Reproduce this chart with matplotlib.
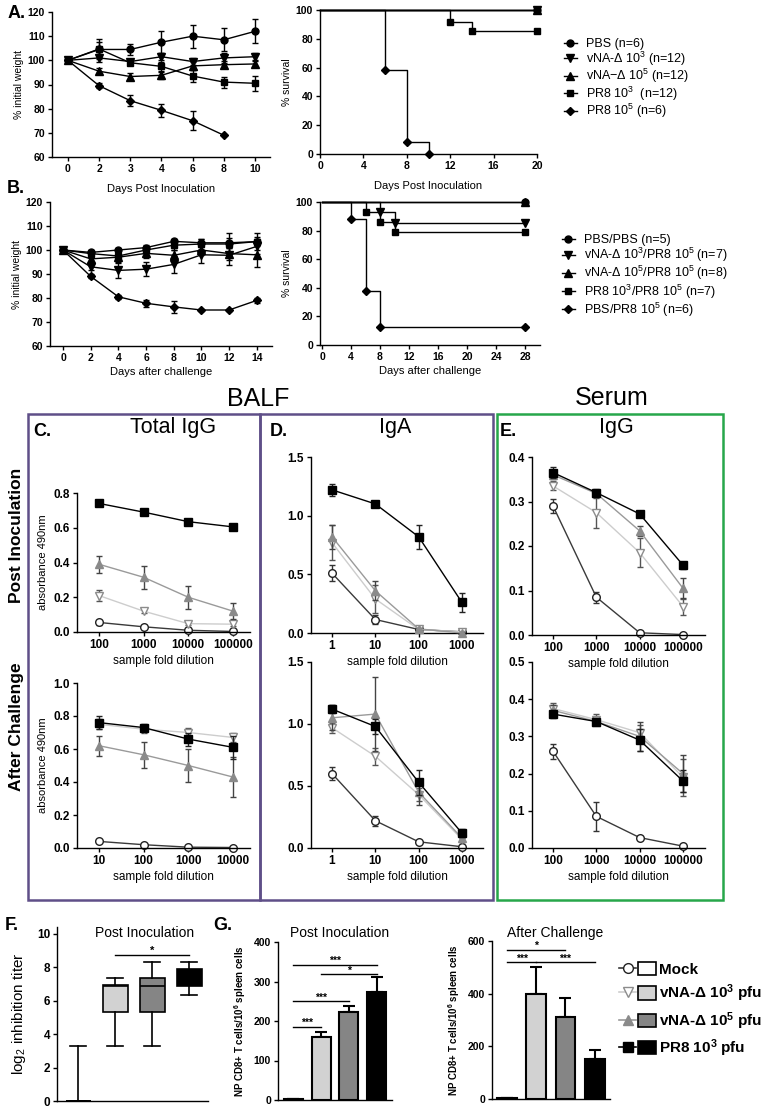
import matplotlib.pyplot as plt
import numpy as np
from matplotlib.lines import Line2D
from matplotlib.patches import Rectangle, Patch
from matplotlib.legend_handler import HandlerTuple

plt.rcParams['font.family'] = ['Liberation Sans', 'DejaVu Sans']
plt.rcParams['mathtext.fontset'] = 'custom'
plt.rcParams['mathtext.rm'] = 'Liberation Sans'
plt.rcParams['mathtext.it'] = 'Liberation Sans:italic'
plt.rcParams['mathtext.bf'] = 'Liberation Sans:bold'

nan = np.nan

# ---------------- A: weight / survival after inoculation ----------------
days_a = ['0', '2', '3', '4', '6', '8', '10']
labels_a = ['PBS (n=6)', 'vNA-Δ 10$^3$ (n=12)', 'vNA−Δ 10$^5$ (n=12)',
            'PR8 10$^3$  (n=12)', 'PR8 10$^5$ (n=6)']
wt_a = [[100, 104.5, 104.5, 107.5, 110, 108.5, 112],
        [100, 101, 99.5, 101.5, 99.5, 101, 101.5],
        [100, 95.5, 93.3, 93.8, 97.7, 98.2, 98.5],
        [100, 104.7, 99, 97.5, 93.5, 91, 90.5],
        [100, 89.5, 83.3, 79.3, 75, 69, nan]]
wt_a_err = [[0, 3, 2.2, 4.5, 4.8, 4.7, 5],
            [0, 1.5, 1, 1.5, 1.5, 2, 1.5],
            [0, 1.2, 1.5, 1.5, 1.5, 1.5, 1.2],
            [0, 4, 1, 2, 2.3, 2.3, 3],
            [0, 1, 2.3, 2.8, 4, 0, 0]]
surv_a_t = [[0, 20], [0, 20], [0, 20], [0, 12, 14, 20], [0, 6, 8, 10]]
surv_a = [[100, 100], [100, 100], [100, 100], [100, 92, 85.5, 85.5], [100, 58.3, 8.3, 0]]

# ---------------- B: weight / survival after challenge ----------------
days_b = [0, 2, 4, 6, 8, 10, 12, 14]
labels_b = ['PBS/PBS (n=5)', 'vNA-Δ 10$^3$/PR8 10$^5$ (n=7)', 'vNA-Δ 10$^5$/PR8 10$^5$ (n=8)',
            'PR8 10$^3$/PR8 10$^5$ (n=7)', 'PBS/PR8 10$^5$ (n=6)']
wt_b = [[100, 99, 100, 101, 103.6, 103, 103, 103.5],
        [100, 93, 91.5, 92, 94, 98, 97.8, 101.5],
        [100, 96.3, 97, 98.6, 97.8, 100, 98.5, 98],
        [100, 98.5, 97.5, 100, 102, 102.5, 102.5, 103.5],
        [100, 89, 80.5, 77.8, 76.3, 75, 75, 79]]
wt_b_err = [[0, 1, 1, 1, 1, 1.5, 2, 2],
            [0, 1.5, 3, 3, 3.5, 3.5, 4, 3],
            [0, 1.5, 2, 2, 2, 2, 2.5, 5],
            [0, 1, 1.5, 1, 2, 2, 4.5, 3.5],
            [0, 0.8, 0.8, 1.5, 2.5, 0.5, 0.5, 1]]
surv_b_t = [[0, 28], [0, 8, 10, 28], [0, 28], [0, 6, 8, 10, 28], [0, 4, 6, 8, 28]]
surv_b = [[100, 100], [100, 93, 85, 85], [100, 100], [100, 93, 86, 79, 79],
          [100, 88, 37.5, 12.5, 12.5]]
wt_markers = ['o', 'v', '^', 's', 'D']
wt_msize = [5, 5.5, 5.5, 5, 4.5]

# ---------------- C/D/E: ELISA (mock, vNA 10^3, vNA 10^5, PR8 10^3) ----------------
dil_c_top = [100, 1000, 10000, 100000]
c_top = [[0.055, 0.03, 0.01, 0.003], [0.21, 0.12, 0.048, 0.045],
         [0.39, 0.315, 0.20, 0.12], [0.74, 0.69, 0.635, 0.605]]
c_top_err = [[0.015, 0.008, 0.005, 0.003], [0.03, 0.012, 0.01, 0.01],
             [0.05, 0.065, 0.065, 0.045], [0.01, 0.01, 0.01, 0.01]]
dil_c_bot = [10, 100, 1000, 10000]
c_bot = [[0.04, 0.02, 0.005, 0.003], [0.75, 0.72, 0.70, 0.67],
         [0.62, 0.565, 0.50, 0.43], [0.76, 0.73, 0.66, 0.61]]
c_bot_err = [[0.005, 0.005, 0.003, 0.002], [0.03, 0.02, 0.03, 0.03],
             [0.06, 0.08, 0.1, 0.12], [0.04, 0.02, 0.04, 0.07]]
dil_d = [1, 10, 100, 1000]
d_top = [[0.51, 0.115, 0.03, 0.01], [0.77, 0.29, 0.03, 0.01],
         [0.82, 0.36, 0.035, 0.0], [1.22, 1.10, 0.82, 0.26]]
d_top_err = [[0.07, 0.04, 0.01, 0.005], [0.15, 0.12, 0.01, 0.005],
             [0.1, 0.08, 0.01, 0.005], [0.05, 0.02, 0.1, 0.08]]
d_bot = [[0.60, 0.22, 0.05, 0.01], [0.97, 0.74, 0.43, 0.07],
         [1.05, 1.08, 0.45, 0.08], [1.12, 0.98, 0.53, 0.12]]
d_bot_err = [[0.05, 0.04, 0.01, 0.005], [0.04, 0.07, 0.05, 0.02],
             [0.1, 0.3, 0.1, 0.03], [0.03, 0.06, 0.1, 0.03]]
dil_e = [100, 1000, 10000, 100000]
e_top = [[0.29, 0.085, 0.005, 0.001], [0.335, 0.275, 0.185, 0.064],
         [0.36, 0.318, 0.234, 0.105], [0.365, 0.32, 0.272, 0.157]]
e_top_err = [[0.015, 0.012, 0.003, 0.002], [0.01, 0.035, 0.033, 0.018],
             [0.01, 0.01, 0.012, 0.022], [0.012, 0.005, 0.005, 0.008]]
e_bot = [[0.26, 0.085, 0.028, 0.005], [0.375, 0.345, 0.31, 0.19],
         [0.37, 0.34, 0.30, 0.20], [0.36, 0.34, 0.29, 0.18]]
e_bot_err = [[0.02, 0.04, 0.005, 0.003], [0.015, 0.015, 0.02, 0.05],
             [0.015, 0.01, 0.04, 0.05], [0.01, 0.01, 0.03, 0.03]]

# ---------------- F: HI titer boxes ----------------
hi_lo = [0, 3.3, 3.3, 6.35]
hi_q1 = [0, 5.3, 5.3, 6.9]
hi_med = [0, 6.9, 6.9, 7.4]
hi_q3 = [0, 6.95, 7.35, 7.9]
hi_hi = [3.3, 7.35, 8.3, 8.3]
sig_f = [(1, 3, 8.7, '*')]

# ---------------- G: NP CD8+ T cells ----------------
g_post = [2, 160, 223, 273]
g_post_err = [0, 12, 15, 38]
g_chal = [3, 399, 312, 152]
g_chal_err = [0, 101, 70, 34]
sig_post = [(0, 3, 342, '***'), (1, 3, 319, '*'), (0, 2, 250, '***'), (0, 1, 185, '***')]
sig_chal = [(0, 2, 566, '*'), (0, 1, 520, '***'), (1, 3, 520, '***')]

legend_g = ['Mock', 'vNA-Δ 10$^\\mathbf{3}$ pfu', 'vNA-Δ 10$^\\mathbf{5}$ pfu', 'PR8 10$^\\mathbf{3}$ pfu']
bar_colors = ['white', '#d2d2d2', '#858585', 'black']
# line style per group in ELISA plots
el_line = ['#3a3a3a', '#cdcdcd', '#9a9a9a', 'black']
el_mark = ['o', 'v', '^', 's']
el_mfc = ['white', 'white', '#8a8a8a', 'black']
el_mec = ['#222222', '#8c8c8c', '#8a8a8a', 'black']
el_ecol = ['#333333', '#555555', '#444444', '#222222']

W, H = 764, 1112
fig = plt.figure(figsize=(W / 100, H / 100), dpi=100)


def add_ax(left, top, right, bottom, fs=7.5):
    ax = fig.add_axes([left / W, 1 - bottom / H, (right - left) / W, (bottom - top) / H])
    ax.patch.set_visible(False)
    ax.spines[['top', 'right']].set_visible(False)
    ax.spines[['left', 'bottom']].set_linewidth(1)
    ax.tick_params(direction='out', length=3, width=1, labelsize=fs, pad=2)
    return ax


def ftext(x, y, s, **kw):
    fig.text(x / W, 1 - y / H, s, **kw)


def ticks(ax, xt, xl, yt, yl, fs):
    ax.set_xticks(xt, xl, fontsize=fs, fontweight='bold')
    ax.set_yticks(yt, yl, fontsize=fs, fontweight='bold')
    ax.minorticks_off()


# ---- A weight ----
ax = add_ax(52, 12, 270, 157)
xa = np.arange(len(days_a))
for i in range(5):
    ax.errorbar(xa, wt_a[i], yerr=wt_a_err[i], color='k', marker=wt_markers[i], ms=wt_msize[i],
                lw=1, capsize=2.5, elinewidth=1, clip_on=False)
ax.set_xlim(-0.51, 6.48)
ax.set_ylim(60, 120)
ticks(ax, xa, days_a, range(60, 121, 10), [str(v) for v in range(60, 121, 10)], 7.5)
ax.set_ylabel('% initial weight', fontsize=7.5, labelpad=3)
ax.set_xlabel('Days Post Inoculation', fontsize=8, labelpad=7)

# ---- A survival ----
ax = add_ax(320, 10, 537, 154)
for i in range(5):
    ax.plot(surv_a_t[i], surv_a[i], drawstyle='steps-post', color='k', lw=1, clip_on=False)
    ax.plot(surv_a_t[i][1:], surv_a[i][1:], ls='none', marker=wt_markers[i], ms=wt_msize[i],
            color='k', clip_on=False)
ax.set_xlim(0, 20)
ax.set_ylim(0, 100)
ticks(ax, range(0, 21, 4), [str(v) for v in range(0, 21, 4)], range(0, 101, 20),
      [str(v) for v in range(0, 101, 20)], 7.5)
ax.set_ylabel('% survival', fontsize=7.5, labelpad=3)
ax.set_xlabel('Days Post Inoculation', fontsize=8, labelpad=7)

hA = [Line2D([], [], color='k', lw=1, marker=wt_markers[i], ms=wt_msize[i]) for i in range(5)]
fig.legend(hA, labels_a, loc='upper left', bbox_to_anchor=(564 / W, 1 - 38 / H),
           frameon=False, fontsize=9, handlelength=1.0, handletextpad=0.8,
           labelspacing=-0.05, borderpad=0, borderaxespad=0)

# ---- B weight ----
ax = add_ax(50, 202, 272, 346)
for i in range(5):
    ax.errorbar(days_b, wt_b[i], yerr=wt_b_err[i], color='k', marker=wt_markers[i], ms=wt_msize[i],
                lw=1, capsize=2.5, elinewidth=1, clip_on=False)
ax.set_xlim(-0.94, 15.1)
ax.set_ylim(60, 120)
ticks(ax, range(0, 15, 2), [str(v) for v in range(0, 15, 2)], range(60, 121, 10),
      [str(v) for v in range(60, 121, 10)], 7.5)
ax.set_ylabel('% initial weight', fontsize=7.5, labelpad=3)
ax.set_xlabel('Days after challenge', fontsize=8, labelpad=3)

# ---- B survival ----
ax = add_ax(320, 202, 540, 345)
for i in range(5):
    ax.plot(surv_b_t[i], surv_b[i], drawstyle='steps-post', color='k', lw=1, clip_on=False)
    ax.plot(surv_b_t[i][1:], surv_b[i][1:], ls='none', marker=wt_markers[i], ms=wt_msize[i],
            color='k', clip_on=False)
ax.set_xlim(-0.28, 30.07)
ax.set_ylim(0, 100)
ticks(ax, range(0, 29, 4), [str(v) for v in range(0, 29, 4)], range(0, 101, 20),
      [str(v) for v in range(0, 101, 20)], 7.5)
ax.set_ylabel('% survival', fontsize=7.5, labelpad=3)
ax.set_xlabel('Days after challenge', fontsize=8, labelpad=3)

fig.legend(hA, labels_b, loc='upper left', bbox_to_anchor=(562 / W, 1 - 234 / H),
           frameon=False, fontsize=9, handlelength=1.0, handletextpad=0.8,
           labelspacing=0.0, borderpad=0, borderaxespad=0)

# ---- C / D / E ----
def elisa(box, dil, vals, errs, xlim, ylim, yt, ylab=None):
    ax = add_ax(*box)
    ax.set_xscale('log')
    for i in range(4):
        ax.errorbar(dil, vals[i], yerr=errs[i], fmt='none', ecolor=el_ecol[i], elinewidth=1,
                    capsize=2.5, capthick=1, zorder=2 + i, clip_on=False)
        ax.plot(dil, vals[i], color=el_line[i], lw=1, marker=el_mark[i], ms=6 if i in (1, 2) else 5.5,
                mfc=el_mfc[i], mec=el_mec[i], mew=1, zorder=2.5 + i, clip_on=False)
    ax.set_xlim(*xlim)
    ax.set_ylim(*ylim)
    ticks(ax, dil, [str(d) for d in dil], yt, ['%.1f' % v for v in yt], 8.5)
    ax.set_xlabel('sample fold dilution', fontsize=8.5, labelpad=3)
    if ylab:
        ax.set_ylabel(ylab, fontsize=8, labelpad=4)
    return ax


elisa((77, 493, 250, 632), dil_c_top, c_top, c_top_err, (10 ** 1.51, 10 ** 5.38), (0, 0.8),
      [0, 0.2, 0.4, 0.6, 0.8], 'absorbance 490nm')
elisa((77, 683, 250, 848), dil_c_bot, c_bot, c_bot_err, (10 ** 0.51, 10 ** 4.38), (0, 1.0),
      [0, 0.2, 0.4, 0.6, 0.8, 1.0], 'absorbance 490nm')
elisa((311, 457, 483, 633), dil_d, d_top, d_top_err, (10 ** -0.485, 10 ** 3.485), (0, 1.5),
      [0, 0.5, 1.0, 1.5])
elisa((311, 662, 483, 848), dil_d, d_bot, d_bot_err, (10 ** -0.485, 10 ** 3.485), (0, 1.5),
      [0, 0.5, 1.0, 1.5])
elisa((532, 457, 705, 635), dil_e, e_top, e_top_err, (10 ** 1.515, 10 ** 5.508), (0, 0.4),
      [0, 0.1, 0.2, 0.3, 0.4])
elisa((532, 662, 705, 848), dil_e, e_bot, e_bot_err, (10 ** 1.515, 10 ** 5.508), (0, 0.5),
      [0, 0.1, 0.2, 0.3, 0.4, 0.5])

purple = '#5f4f88'
green = '#27a74a'
for (x0, x1, col) in [(28, 260, purple), (260, 493, purple), (497, 723, green)]:
    fig.add_artist(Rectangle((x0 / W, 1 - 900 / H), (x1 - x0) / W, (900 - 414) / H,
                             transform=fig.transFigure, fill=False, ec=col, lw=1.8))

ftext(258, 399, 'BALF', fontsize=18, ha='center', va='center')
ftext(612, 398, 'Serum', fontsize=18, ha='center', va='center')
ftext(173, 428, 'Total IgG', fontsize=15.5, ha='center', va='center')
ftext(395, 428, 'IgA', fontsize=15.5, ha='center', va='center')
ftext(616, 428, 'IgG', fontsize=15.5, ha='center', va='center')
ftext(17, 535, 'Post Inoculation', fontsize=12.5, fontweight='bold', rotation=90,
      ha='center', va='center')
ftext(17, 727, 'After Challenge', fontsize=12.5, fontweight='bold', rotation=90,
      ha='center', va='center')

# panel letters
for (x, y, s) in [(8, 13, 'A.'), (7, 189, 'B.'), (33, 432, 'C.'), (270, 432, 'D.'),
                  (500, 432, 'E.'), (5, 926, 'F.'), (213, 926, 'G.')]:
    ftext(x, y, s, fontsize=13, fontweight='bold', ha='left', va='center')

# ---- F ----
ax = add_ax(57, 927, 208, 1101)
stats = [dict(whislo=hi_lo[i], q1=hi_q1[i], med=hi_med[i], q3=hi_q3[i], whishi=hi_hi[i], fliers=[])
         for i in range(4)]
bp = ax.bxp(stats, positions=[1, 2, 3, 4], widths=0.68, capwidths=0.45, patch_artist=True,
            showfliers=False, medianprops=dict(color='k', lw=1.2), boxprops=dict(lw=1.2),
            whiskerprops=dict(lw=1.2), capprops=dict(lw=1.2), manage_ticks=False)
for patch, c in zip(bp['boxes'], bar_colors):
    patch.set_facecolor(c)
for (i, j, y, s) in sig_f:
    ax.plot([i + 1, j + 1], [y, y], color='k', lw=1)
    ax.text((i + j) / 2 + 1, y, s, ha='center', va='bottom', fontsize=8, fontweight='bold')
ax.set_xlim(0.43, 4.51)
ax.set_ylim(0, 10.4)
ax.set_xticks([])
ax.set_yticks(range(0, 11, 2), [str(v) for v in range(0, 11, 2)], fontsize=8.5, fontweight='bold')
ax.set_ylabel('log$_2$ inhibition titer', fontsize=11, labelpad=6)
ftext(145, 933, 'Post Inoculation', fontsize=10, ha='center', va='center')


# ---- G ----
def cd8(box, vals, errs, sigs, xlim, ylim, yt, title, tx):
    ax = add_ax(*box)
    pos = np.arange(4)
    ax.bar(pos, vals, width=0.68, color=bar_colors, edgecolor='k', lw=1.5, zorder=2)
    ax.errorbar(pos, vals, yerr=[np.zeros(4), errs], fmt='none', ecolor='k', elinewidth=1.5,
                capsize=4, capthick=1.5, zorder=1)
    for (i, j, y, s) in sigs:
        ax.plot([i, j], [y, y], color='k', lw=1, clip_on=False)
        ax.annotate(s, ((i + j) / 2, y), xytext=(0, -1), textcoords='offset points',
                    ha='center', va='bottom', fontsize=7.5, fontweight='bold')
    ax.set_xlim(*xlim)
    ax.set_ylim(*ylim)
    ax.set_xticks([])
    ax.set_yticks(yt, [str(v) for v in yt], fontsize=7.5, fontweight='bold')
    ax.set_ylabel('NP CD8+ T cells/10$^\\mathbf{6}$ spleen cells', fontsize=7, fontweight='bold',
                  labelpad=4)
    ftext(tx, 933, title, fontsize=10, ha='center', va='center')


cd8((278, 942, 392, 1100), g_post, g_post_err, sig_post, (-0.54, 3.54), (0, 400),
    [0, 100, 200, 300, 400], 'Post Inoculation', 340)
cd8((492, 941, 610, 1099), g_chal, g_chal_err, sig_chal, (-0.51, 3.52), (0, 600),
    [0, 200, 400, 600], 'After Challenge', 555)

hG = [(Line2D([], [], color=el_line[i], lw=1.2, marker=el_mark[i], ms=7, mfc=el_mfc[i], mec=el_mec[i]),
       Patch(fc=bar_colors[i], ec='k', lw=1.2)) for i in range(4)]
fig.legend(hG, legend_g, handler_map={tuple: HandlerTuple(ndivide=None, pad=0.15)},
           loc='upper left', bbox_to_anchor=(619 / W, 1 - 962 / H), frameon=False,
           prop=dict(size=11, weight='bold'), handlelength=2.4, handleheight=0.95,
           handletextpad=0.25, labelspacing=0.38, borderpad=0, borderaxespad=0)

fig.savefig('out.png', dpi=100)
